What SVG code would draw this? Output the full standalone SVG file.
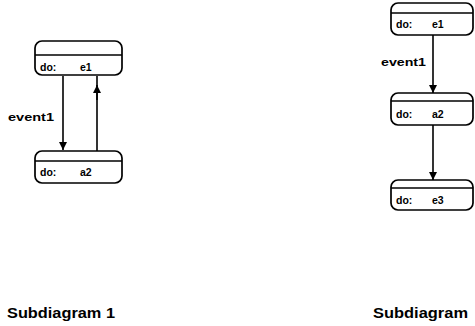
<svg xmlns="http://www.w3.org/2000/svg" width="475" height="326" viewBox="0 0 475 326">
<defs>
<marker id="ah" viewBox="0 0 10 10" refX="10" refY="5" markerWidth="11" markerHeight="8" markerUnits="userSpaceOnUse" orient="auto">
<path d="M0,0 L10,5 L0,10 z" fill="#000"/>
</marker>
</defs>
<style>
.box{fill:#fff;stroke:#000;stroke-width:1.7}
.div{stroke:#000;stroke-width:1.4}
.t{font-family:"Liberation Sans",Arial,sans-serif;font-size:10.5px;font-weight:bold;fill:#000}
.lbl{font-family:"Liberation Sans",Arial,sans-serif;font-size:10px;font-weight:bold;fill:#000}
.cap{font-family:"Liberation Sans",Arial,sans-serif;font-size:14px;font-weight:bold;fill:#000}
.c{stroke:#000;stroke-width:1.6;fill:none}
</style>
<rect width="475" height="326" fill="#fff"/>
<g id="connectors">
<line class="c" x1="63" y1="76" x2="63" y2="150" marker-end="url(#ah)"/>
<line class="c" x1="97" y1="151" x2="97" y2="76"/>
<line class="c" x1="97" y1="100" x2="97" y2="85" marker-end="url(#ah)"/>
<text class="lbl" x="8" y="121" textLength="46" lengthAdjust="spacingAndGlyphs">event1</text>
<line class="c" x1="433" y1="35" x2="433" y2="93" marker-end="url(#ah)"/>
<text class="lbl" x="381" y="66" textLength="45" lengthAdjust="spacingAndGlyphs">event1</text>
<line class="c" x1="433" y1="125" x2="433" y2="180" marker-end="url(#ah)"/>
</g>
<g id="L_e1">
<rect class="box" x="35" y="41" width="87" height="34" rx="7"/>
<line class="div" x1="35" y1="55" x2="122" y2="55"/>
<text class="t" x="40" y="71">do:</text>
<text class="t" x="80" y="71">e1</text>
</g>
<g id="L_a2">
<rect class="box" x="35" y="151" width="87" height="32" rx="7"/>
<line class="div" x1="35" y1="161" x2="122" y2="161"/>
<text class="t" x="40" y="176">do:</text>
<text class="t" x="80" y="176">a2</text>
</g>
<g id="R_e1">
<rect class="box" x="391" y="3" width="82" height="32" rx="7"/>
<line class="div" x1="391" y1="13" x2="473" y2="13"/>
<text class="t" x="396" y="28">do:</text>
<text class="t" x="432" y="28">e1</text>
</g>
<g id="R_a2">
<rect class="box" x="391" y="93" width="82" height="32" rx="7"/>
<line class="div" x1="391" y1="101" x2="473" y2="101"/>
<text class="t" x="396" y="118">do:</text>
<text class="t" x="432" y="118">a2</text>
</g>
<g id="R_e3">
<rect class="box" x="391" y="180" width="82" height="30" rx="7"/>
<line class="div" x1="391" y1="188" x2="473" y2="188"/>
<text class="t" x="396" y="204">do:</text>
<text class="t" x="432" y="204">e3</text>
</g>
<text class="cap" x="7" y="318" textLength="108" lengthAdjust="spacingAndGlyphs">Subdiagram 1</text>
<text class="cap" x="373" y="318" textLength="95" lengthAdjust="spacingAndGlyphs">Subdiagram</text>
</svg>
